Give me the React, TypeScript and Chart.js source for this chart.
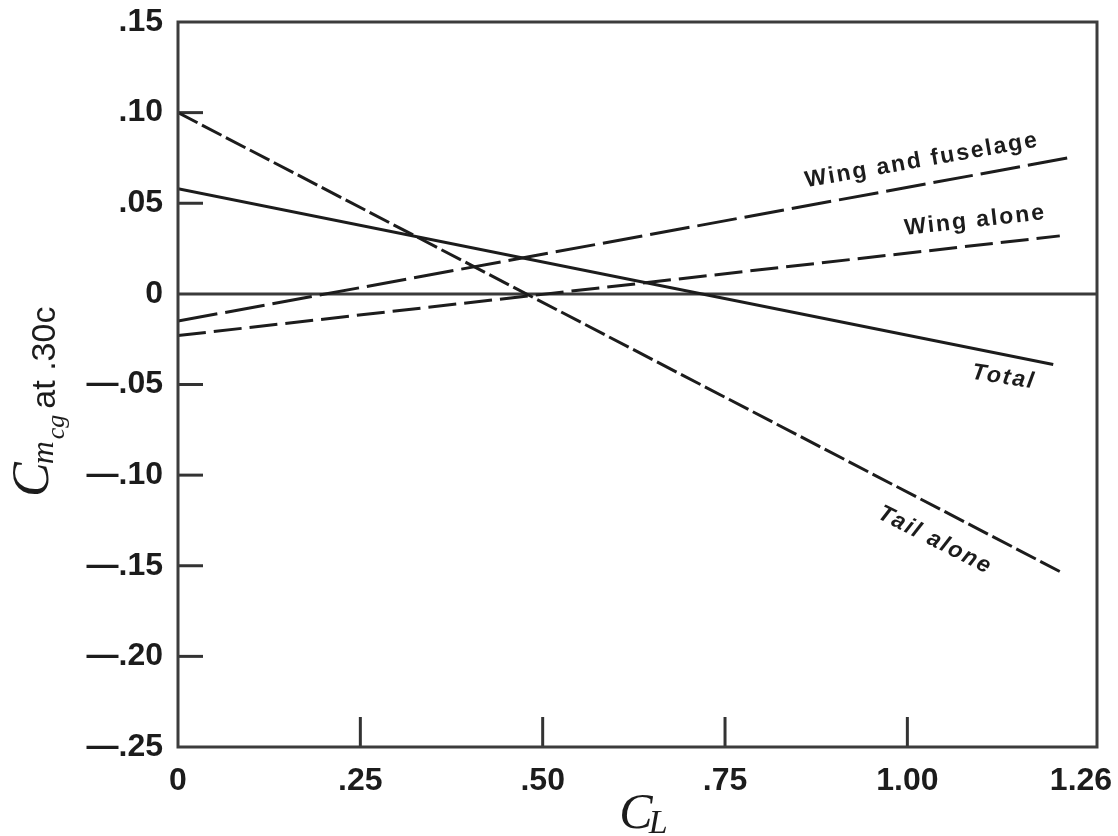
import React, { useEffect, useRef } from "react";
import { Chart, registerables } from "chart.js";
Chart.register(...registerables);

// Series (C_L, Cm_cg)
const tailX = [0, 1.213];
const tailY = [0.1, -0.154];
const totalX = [0, 1.2];
const totalY = [0.058, -0.039];
const wingFusX = [0, 1.22];
const wingFusY = [-0.015, 0.075];
const wingX = [0, 1.209];
const wingY = [-0.023, 0.032];

// Ticks
const xTickValues = [0, 0.25, 0.5, 0.75, 1.0, 1.26];
const xTickLabels = ["0", ".25", ".50", ".75", "1.00", "1.26\u2003"];
const yTickValues = [-0.25, -0.2, -0.15, -0.1, -0.05, 0, 0.05, 0.1, 0.15];
const yTickLabels = ["\u2014.25", "\u2014.20", "\u2014.15", "\u2014.10", "\u2014.05", "0", ".05", ".10", ".15"];
const innerXTicks = [0.25, 0.5, 0.75, 1.0];
const innerYTicks = [-0.2, -0.15, -0.1, -0.05, 0.05, 0.1];

// Curve labels (data coords, angle in degrees)
const labelTexts = ["Wing and fuselage", "Wing alone", "Total", "Tail alone"];
const labelX = [1.02, 1.093, 1.132, 1.038];
const labelY = [0.0736, 0.0404, -0.046, -0.136];
const labelAngle = [-10, -6.5, 9, 27];
const labelItalic = [false, false, true, true];

const toPts = (xs: number[], ys: number[]) => xs.map((x, i) => ({ x, y: ys[i] }));

const INK = "#1c1c1c";

const decorPlugin = {
  id: "decor",
  beforeDatasetsDraw(chart: any) {
    const { ctx, chartArea: a, scales } = chart;
    const xs = scales.x, ys = scales.y;
    ctx.save();
    ctx.lineCap = "butt";
    // zero line
    ctx.strokeStyle = "#3a3a3a";
    ctx.lineWidth = 3;
    const y0 = ys.getPixelForValue(0);
    ctx.beginPath();
    ctx.moveTo(a.left, y0);
    ctx.lineTo(a.right, y0);
    ctx.stroke();
    // inner ticks
    ctx.strokeStyle = "#333";
    ctx.lineWidth = 3;
    innerYTicks.forEach((v) => {
      const py = ys.getPixelForValue(v);
      ctx.beginPath();
      ctx.moveTo(a.left, py);
      ctx.lineTo(a.left + 25, py);
      ctx.stroke();
    });
    innerXTicks.forEach((v) => {
      const px = xs.getPixelForValue(v);
      ctx.beginPath();
      ctx.moveTo(px, a.bottom);
      ctx.lineTo(px, a.bottom - 30);
      ctx.stroke();
    });
    ctx.restore();
  },
  afterDatasetsDraw(chart: any) {
    const { ctx, chartArea: a, scales } = chart;
    const xs = scales.x, ys = scales.y;
    ctx.save();
    // frame
    ctx.strokeStyle = "#3c3c3c";
    ctx.lineWidth = 3;
    ctx.strokeRect(a.left, a.top, a.right - a.left, a.bottom - a.top);
    // curve labels
    ctx.fillStyle = INK;
    ctx.textAlign = "center";
    ctx.textBaseline = "middle";
    labelTexts.forEach((t, i) => {
      const px = xs.getPixelForValue(labelX[i]);
      const py = ys.getPixelForValue(labelY[i]);
      ctx.save();
      ctx.translate(px, py);
      ctx.rotate((labelAngle[i] * Math.PI) / 180);
      ctx.font = (labelItalic[i] ? "italic " : "") + 'bold 23px "Liberation Sans", Arial, sans-serif';
      (ctx as any).letterSpacing = "2px";
      ctx.fillText(t, 0, 0);
      ctx.restore();
    });
    ctx.restore();
  },
  afterDraw(chart: any) {
    const { ctx, chartArea: a } = chart;
    ctx.save();
    ctx.fillStyle = INK;
    ctx.textAlign = "left";
    ctx.textBaseline = "alphabetic";
    // x title C_L
    const cx = (a.left + a.right) / 2;
    ctx.font = 'italic 50px "Liberation Serif", serif';
    const wC = ctx.measureText("C").width;
    ctx.font = 'italic 34px "Liberation Serif", serif';
    const wL = ctx.measureText("L").width;
    const startX = cx + 6 - (wC + wL - 4) / 2;
    ctx.font = 'italic 50px "Liberation Serif", serif';
    ctx.fillText("C", startX, a.bottom + 81);
    ctx.font = 'italic 34px "Liberation Serif", serif';
    ctx.fillText("L", startX + wC - 4, a.bottom + 86);

    // y title C_{m_cg} at .30c (rotated)
    ctx.save();
    ctx.translate(48, 497);
    ctx.rotate(-Math.PI / 2);
    let x = 0;
    ctx.font = 'italic 52px "Liberation Serif", serif';
    ctx.fillText("C", x, 0);
    x += ctx.measureText("C").width - 2;
    ctx.font = 'italic 32px "Liberation Serif", serif';
    ctx.fillText("m", x, 5);
    x += ctx.measureText("m").width + 2;
    ctx.font = 'italic 26px "Liberation Serif", serif';
    ctx.fillText("cg", x, 16);
    x += ctx.measureText("cg").width + 6;
    ctx.font = '34px "Liberation Sans", Arial, sans-serif';
    ctx.fillText("at .30c", x, 7);
    ctx.restore();
    ctx.restore();
  },
};

export default function App() {
  const ref = useRef<HTMLCanvasElement | null>(null);
  useEffect(() => {
    document.body.style.margin = "0";
    const canvas = ref.current!;
    const tickFont = { family: '"Liberation Sans", Arial, sans-serif', size: 32, weight: "bold" as const };
    const ds = (label: string, xs: number[], ys: number[], dash: number[], w = 3) => ({
      label,
      data: toPts(xs, ys),
      borderColor: INK,
      borderWidth: w,
      borderDash: dash,
      pointRadius: 0,
      fill: false,
      tension: 0,
      showLine: true,
    });
    const chart = new Chart(canvas, {
      type: "scatter",
      data: {
        datasets: [
          ds("Tail alone", tailX, tailY, [22, 5]),
          ds("Total", totalX, totalY, []),
          ds("Wing and fuselage", wingFusX, wingFusY, [40, 8]),
          ds("Wing alone", wingX, wingY, [28, 8]),
        ],
      },
      options: {
        animation: false,
        responsive: false,
        maintainAspectRatio: false,
        layout: { padding: { top: 22, right: 21, left: 0, bottom: 0 } },
        plugins: { legend: { display: false }, tooltip: { enabled: false }, title: { display: false } },
        scales: {
          x: {
            type: "linear",
            min: 0,
            max: 1.26,
            grid: { display: false, drawTicks: false },
            border: { display: false },
            afterBuildTicks: (s: any) => {
              s.ticks = xTickValues.map((v) => ({ value: v }));
            },
            afterFit: (s: any) => {
              s.height = 89;
              s.paddingLeft = 0;
              s.paddingRight = 0;
            },
            ticks: {
              autoSkip: false,
              maxRotation: 0,
              minRotation: 0,
              padding: 15,
              color: INK,
              font: tickFont,
              callback: (_v: any, i: number) => xTickLabels[i],
            },
          },
          y: {
            type: "linear",
            min: -0.25,
            max: 0.15,
            grid: { display: false, drawTicks: false },
            border: { display: false },
            afterBuildTicks: (s: any) => {
              s.ticks = yTickValues.map((v) => ({ value: v }));
            },
            afterFit: (s: any) => {
              s.width = 178;
              s.paddingTop = 0;
              s.paddingBottom = 0;
            },
            ticks: {
              autoSkip: false,
              padding: 15,
              color: INK,
              font: tickFont,
              callback: (_v: any, i: number) => yTickLabels[i],
            },
          },
        },
      },
      plugins: [decorPlugin],
    });
    return () => chart.destroy();
  }, []);
  return (
    <div style={{ width: 1118, height: 836, background: "#fff" }}>
      <canvas ref={ref} width={1118} height={836} style={{ display: "block", width: 1118, height: 836 }} />
    </div>
  );
}
